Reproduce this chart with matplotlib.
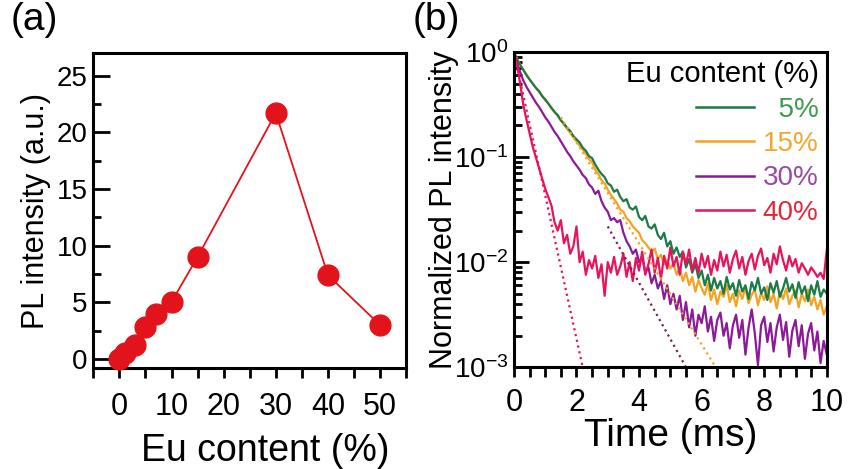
import numpy as np
import matplotlib
matplotlib.use("Agg")
import matplotlib.pyplot as plt
from matplotlib.ticker import MultipleLocator, LogLocator, NullFormatter

plt.rcParams['font.family'] = ['Liberation Sans', 'DejaVu Sans']
plt.rcParams['mathtext.fontset'] = 'custom'
plt.rcParams['mathtext.rm'] = 'Liberation Sans'
plt.rcParams['mathtext.it'] = 'Liberation Sans'

# panel (a): PL intensity vs Eu content
eu_content = [0, 1, 3, 5, 7, 10, 15, 30, 40, 50]
pl_intensity = [0.05, 0.5, 1.2, 2.85, 4.0, 5.05, 9.0, 21.7, 7.4, 3.0]

# panel (b): decay curves, log10 of normalized intensity, 0.1 ms steps
time_ms = np.round(np.arange(0, 10.01, 0.1), 1)

log_i_5 = [
    0.00, -0.07, -0.12, -0.17, -0.22, -0.26, -0.30, -0.34, -0.37, -0.42,
    -0.45, -0.49, -0.53, -0.57, -0.60, -0.65, -0.68, -0.72, -0.75, -0.80,
    -0.83, -0.86, -0.91, -0.94, -0.99, -1.01, -1.07, -1.12, -1.16, -1.19,
    -1.25, -1.27, -1.33, -1.31, -1.38, -1.42, -1.40, -1.48, -1.50, -1.47,
    -1.57, -1.60, -1.56, -1.66, -1.68, -1.64, -1.74, -1.78, -1.72, -1.85,
    -1.80, -1.92, -1.86, -1.95, -1.90, -2.05, -1.97, -2.10, -2.02, -2.15,
    -2.08, -2.22, -2.12, -2.27, -2.15, -2.25, -2.18, -2.30, -2.14, -2.26,
    -2.20, -2.32, -2.17, -2.28, -2.22, -2.35, -2.19, -2.27, -2.15, -2.30,
    -2.24, -2.36, -2.20, -2.29, -2.18, -2.33, -2.25, -2.15, -2.28, -2.21,
    -2.34, -2.19, -2.30, -2.23, -2.37, -2.22, -2.31, -2.18, -2.33, -2.26,
    -2.30]

log_i_15 = [
    0.00, -0.06, -0.12, -0.17, -0.21, -0.26, -0.30, -0.34, -0.38, -0.41,
    -0.46, -0.49, -0.54, -0.57, -0.61, -0.65, -0.69, -0.73, -0.77, -0.81,
    -0.85, -0.89, -0.93, -0.97, -1.02, -1.05, -1.12, -1.16, -1.22, -1.25,
    -1.31, -1.36, -1.40, -1.44, -1.50, -1.52, -1.58, -1.61, -1.66, -1.69,
    -1.72, -1.79, -1.82, -1.86, -1.90, -1.87, -1.97, -1.93, -2.02, -1.98,
    -2.06, -2.01, -2.12, -2.05, -2.18, -2.10, -2.22, -2.14, -2.28, -2.17,
    -2.25, -2.31, -2.20, -2.36, -2.26, -2.40, -2.28, -2.33, -2.22, -2.38,
    -2.30, -2.42, -2.27, -2.35, -2.24, -2.39, -2.31, -2.26, -2.41, -2.29,
    -2.36, -2.23, -2.38, -2.30, -2.44, -2.28, -2.35, -2.25, -2.40, -2.32,
    -2.27, -2.43, -2.30, -2.37, -2.26, -2.41, -2.33, -2.45, -2.36, -2.50,
    -2.42]

log_i_30 = [
    0.00, -0.10, -0.19, -0.27, -0.33, -0.38, -0.43, -0.48, -0.52, -0.57,
    -0.62, -0.66, -0.71, -0.76, -0.80, -0.85, -0.90, -0.95, -0.99, -1.04,
    -1.08, -1.12, -1.17, -1.20, -1.26, -1.29, -1.35, -1.32, -1.42, -1.48,
    -1.52, -1.60, -1.58, -1.62, -1.60, -1.72, -1.80, -1.85, -1.92, -1.88,
    -2.00, -1.95, -2.10, -2.05, -2.20, -2.12, -2.25, -2.18, -2.35, -2.22,
    -2.40, -2.30, -2.45, -2.32, -2.55, -2.38, -2.62, -2.45, -2.70, -2.50,
    -2.58, -2.42, -2.66, -2.52, -2.75, -2.55, -2.48, -2.70, -2.58, -2.82,
    -2.60, -2.50, -2.72, -2.55, -2.88, -2.62, -2.45, -2.68, -2.98, -2.60,
    -2.52, -2.76, -2.58, -2.85, -2.62, -2.50, -2.74, -2.57, -2.90, -2.65,
    -2.55, -2.80, -2.60, -2.92, -2.68, -2.58, -2.84, -2.66, -2.96, -2.75,
    -2.88]

log_i_40 = [
    0.00, -0.12, -0.30, -0.50, -0.64, -0.77, -0.90, -1.00, -1.10, -1.20,
    -1.30, -1.38, -1.46, -1.62, -1.70, -1.60, -1.82, -1.74, -1.92, -1.85,
    -1.66, -2.00, -1.90, -2.12, -1.98, -2.06, -1.94, -2.15, -2.02, -2.32,
    -2.00, -2.10, -1.95, -2.12, -2.04, -1.92, -2.14, -2.00, -2.18, -1.96,
    -2.08, -1.90, -2.12, -2.02, -1.88, -2.10, -1.96, -2.16, -1.94, -2.06,
    -1.86, -2.04, -1.95, -2.12, -1.90, -2.02, -1.88, -2.08, -1.96, -2.10,
    -1.92, -2.05, -1.94, -2.12, -1.98, -2.08, -1.90, -2.04, -1.93, -2.10,
    -1.97, -1.89, -2.06, -1.95, -2.12, -1.99, -1.92, -2.07, -1.94, -1.87,
    -2.03, -1.96, -2.10, -1.92, -2.02, -1.85, -1.98, -2.08, -1.94, -2.04,
    -1.97, -2.10, -2.01, -2.06, -2.12, -2.05, -2.09, -2.14, -2.10, -2.16,
    -1.88]

# single-exponential fit lines (start/end points, log10)
fit_15_t = [1.5, 6.45]
fit_15_log = [-0.62, -3.0]
fit_30_t = [3.0, 5.5]
fit_30_log = [-1.66, -3.0]
fit_40_t = [0.0, 2.2]
fit_40_log = [0.0, -3.0]

c_red = '#e3131b'
c_green = '#1b7a45'
c_orange = '#f2a422'
c_purple = '#8c1a98'
c_pink = '#e8135a'

fig = plt.figure(figsize=(8.48, 4.69), dpi=100)
ax1 = fig.add_axes([0.110, 0.215, 0.369, 0.672])
ax2 = fig.add_axes([0.606, 0.217, 0.369, 0.672])

for ax in (ax1, ax2):
    for s in ax.spines.values():
        s.set_linewidth(2.2)

# ---- (a)
ax1.plot(eu_content, pl_intensity, '-o', color=c_red, lw=1.3,
         ms=15, mfc=c_red, mec=c_red, clip_on=False, zorder=3)
ax1.set_xlim(-5, 55)
ax1.set_ylim(-0.8, 27)
ax1.xaxis.set_major_locator(MultipleLocator(10))
ax1.xaxis.set_minor_locator(MultipleLocator(5))
ax1.yaxis.set_major_locator(MultipleLocator(5))
ax1.yaxis.set_minor_locator(MultipleLocator(2.5))
ax1.tick_params(axis='y', which='major', direction='in', length=12, width=2, labelsize=20, pad=4)
ax1.tick_params(axis='y', which='minor', direction='in', length=6, width=2)
ax1.tick_params(axis='x', which='both', direction='out', length=7, width=2, labelsize=22, pad=10)
ax1.set_xlabel('Eu content (%)', fontsize=27, labelpad=0)
ax1.xaxis.set_label_coords(0.55, -0.205)
ax1.set_ylabel('PL intensity (a.u.)', fontsize=22, labelpad=4)

# ---- (b)
ax2.plot(time_ms, 10 ** np.array(log_i_15), color=c_orange, lw=1.6)
ax2.plot(time_ms, 10 ** np.array(log_i_5), color=c_green, lw=1.6)
ax2.plot(time_ms, 10 ** np.array(log_i_30), color=c_purple, lw=1.6)
ax2.plot(time_ms, 10 ** np.array(log_i_40), color=c_pink, lw=1.6)
ax2.plot(fit_15_t, 10 ** np.array(fit_15_log), ':', color=c_orange, lw=1.6)
ax2.plot(fit_30_t, 10 ** np.array(fit_30_log), ':', color='#7a2458', lw=1.6)
ax2.plot(fit_40_t, 10 ** np.array(fit_40_log), ':', color=c_pink, lw=1.6)

ax2.set_yscale('log')
ax2.set_xlim(0, 10)
ax2.set_ylim(1e-3, 1)
ax2.xaxis.set_major_locator(MultipleLocator(2))
ax2.xaxis.set_minor_locator(MultipleLocator(0.5))
ax2.yaxis.set_major_locator(LogLocator(base=10, numticks=10))
ax2.yaxis.set_minor_locator(LogLocator(base=10, subs=np.arange(2, 10), numticks=10))
ax2.yaxis.set_minor_formatter(NullFormatter())
ax2.tick_params(axis='y', which='major', direction='in', length=11, width=2, labelsize=20, pad=4)
ax2.tick_params(axis='y', which='minor', direction='in', length=6, width=2)
ax2.tick_params(axis='x', which='both', direction='out', length=7, width=2, labelsize=22, pad=8)
ax2.set_xlabel('Time (ms)', fontsize=28, labelpad=0)
ax2.set_ylabel('Normalized PL intensity', fontsize=22, labelpad=-4)

handles = [plt.Line2D([], [], color=c, lw=1.8) for c in (c_green, c_orange, c_purple, c_pink)]
labels = ['  5%', '15%', '30%', '40%']
leg = ax2.legend(handles, labels, title='Eu content (%)', loc='upper right',
                 bbox_to_anchor=(1.0, 1.0), frameon=False, fontsize=20,
                 title_fontsize=21, handlelength=2.1, handletextpad=0.3,
                 labelspacing=0.3, borderaxespad=0.1, borderpad=0.2,
                 alignment='right')
for txt, c in zip(leg.get_texts(), ('#3a9e48', '#f0a830', '#9a4aa0', '#e02a3a')):
    txt.set_color(c)

fig.text(0.012, 0.995, '(a)', fontsize=28, va='top', ha='left')
fig.text(0.487, 0.995, '(b)', fontsize=28, va='top', ha='left')

fig.savefig('out.png', dpi=100)
